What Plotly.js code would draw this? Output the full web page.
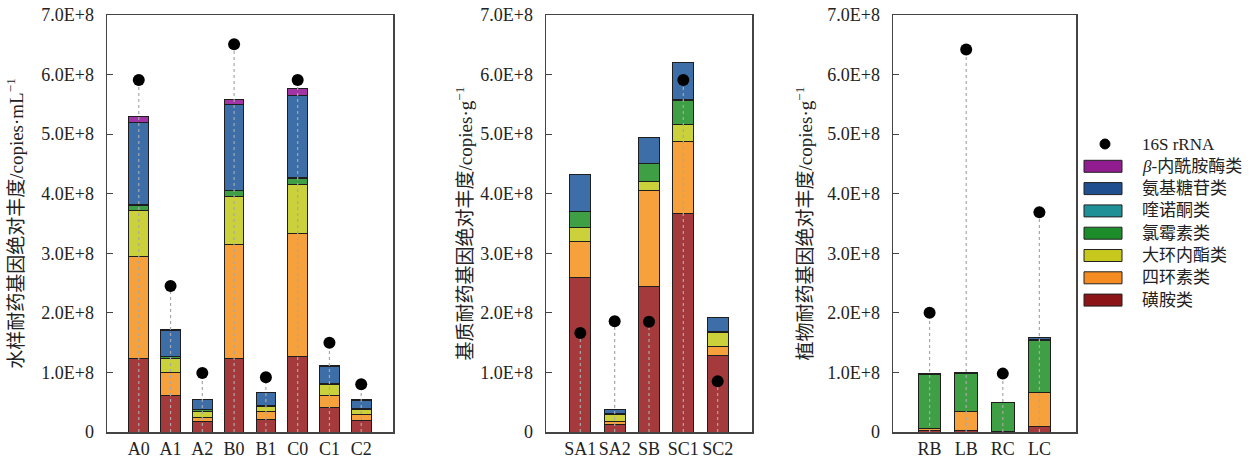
<!DOCTYPE html>
<html>
<head>
<meta charset="utf-8">
<script src="https://cdn.plot.ly/plotly-3.0.1.min.js"></script>
<style>html,body{margin:0;padding:0;background:#fff;}#chart{width:1256px;height:463px;}</style>
</head>
<body>
<div id="chart"></div>
<script>
// ---------- DATA (values in units of 1E+8 copies) ----------
const classNames = ['磺胺类', '四环素类', '大环内酯类', '氯霉素类', '喹诺酮类', '氨基糖苷类', '<i>β</i>-内酰胺酶类'];
const yTickVals = [0, 1, 2, 3, 4, 5, 6, 7];
const yTickText = ['0', '1.0E+8', '2.0E+8', '3.0E+8', '4.0E+8', '5.0E+8', '6.0E+8', '7.0E+8'];

// Panel 1: water samples
const waterCats = ['A0', 'A1', 'A2', 'B0', 'B1', 'C0', 'C1', 'C2'];
const waterSulfonamide     = [1.23, 0.62, 0.18, 1.23, 0.21, 1.27, 0.41, 0.19];
const waterTetracycline    = [1.71, 0.38, 0.07, 1.92, 0.13, 2.07, 0.20, 0.10];
const waterMacrolide       = [0.78, 0.23, 0.09, 0.81, 0.08, 0.82, 0.18, 0.08];
const waterChloramphenicol = [0.09, 0.03, 0.03, 0.09, 0.02, 0.10, 0.02, 0.02];
const waterQuinolone       = [0.01, 0.01, 0.005, 0.01, 0.005, 0.01, 0.005, 0.005];
const waterAminoglycoside  = [1.38, 0.44, 0.17, 1.43, 0.22, 1.38, 0.29, 0.14];
const waterBetaLactam      = [0.10, 0.01, 0.005, 0.09, 0.005, 0.12, 0.005, 0.005];
const water16S             = [5.91, 2.45, 0.99, 6.51, 0.92, 5.91, 1.50, 0.80];

// Panel 2: substrate samples
const substrateCats = ['SA1', 'SA2', 'SB', 'SC1', 'SC2'];
const substrateSulfonamide     = [2.59, 0.12, 2.44, 3.67, 1.29];
const substrateTetracycline    = [0.61, 0.05, 1.61, 1.20, 0.14];
const substrateMacrolide       = [0.23, 0.12, 0.16, 0.29, 0.24];
const substrateChloramphenicol = [0.27, 0.02, 0.29, 0.41, 0.02];
const substrateQuinolone       = [0, 0, 0, 0.01, 0];
const substrateAminoglycoside  = [0.62, 0.06, 0.45, 0.62, 0.23];
const substrateBetaLactam      = [0, 0, 0, 0, 0];
const substrate16S             = [1.66, 1.86, 1.85, 5.91, 0.85];

// Panel 3: plant samples
const plantCats = ['RB', 'LB', 'RC', 'LC'];
const plantSulfonamide     = [0.02, 0.03, 0.01, 0.10];
const plantTetracycline    = [0.04, 0.32, 0.005, 0.555];
const plantMacrolide       = [0, 0, 0, 0];
const plantChloramphenicol = [0.91, 0.64, 0.475, 0.875];
const plantQuinolone       = [0.01, 0.01, 0, 0.03];
const plantAminoglycoside  = [0, 0, 0, 0.02];
const plantBetaLactam      = [0, 0, 0, 0];
const plant16S             = [2.00, 6.42, 0.98, 3.69];

// ---------- STYLE ----------
const barColors    = ['#a53a3d', '#f7a13c', '#cbd13a', '#3f9f45', '#2a9d9d', '#3d6ea8', '#a235a5'];
const legendColors = ['#8c1518', '#f58c22', '#c6c81e', '#1d8c2b', '#1f9096', '#1f4f8e', '#901c90'];
const serif = '"Liberation Serif", "Times New Roman", "Noto Sans CJK SC", serif';
const W = 1256, H = 463;

const panels = [
  {cats: waterCats, series: [waterSulfonamide, waterTetracycline, waterMacrolide, waterChloramphenicol, waterQuinolone, waterAminoglycoside, waterBetaLactam], s16: water16S, xa: 'x', ya: 'y'},
  {cats: substrateCats, series: [substrateSulfonamide, substrateTetracycline, substrateMacrolide, substrateChloramphenicol, substrateQuinolone, substrateAminoglycoside, substrateBetaLactam], s16: substrate16S, xa: 'x2', ya: 'y2'},
  {cats: plantCats, series: [plantSulfonamide, plantTetracycline, plantMacrolide, plantChloramphenicol, plantQuinolone, plantAminoglycoside, plantBetaLactam], s16: plant16S, xa: 'x3', ya: 'y3'}
];

const traces = [];
panels.forEach(p => {
  p.series.forEach((vals, i) => {
    traces.push({
      type: 'bar', x: p.cats, y: vals, xaxis: p.xa, yaxis: p.ya,
      name: classNames[i], showlegend: false, width: 0.62,
      marker: {color: barColors[i], line: {color: '#1e1e1e', width: 1}},
      hoverinfo: 'skip'
    });
  });
  // dotted drop lines from axis to 16S point
  const lx = [], ly = [];
  p.cats.forEach((c, k) => { lx.push(c, c, null); ly.push(0, p.s16[k], null); });
  traces.push({
    type: 'scatter', mode: 'lines', x: lx, y: ly, xaxis: p.xa, yaxis: p.ya,
    line: {color: '#a8a8a8', width: 1.2, dash: 'dot'}, showlegend: false, hoverinfo: 'skip'
  });
  traces.push({
    type: 'scatter', mode: 'markers', x: p.cats, y: p.s16, xaxis: p.xa, yaxis: p.ya,
    name: '16S rRNA', showlegend: false,
    marker: {color: '#000', size: 12}
  });
});

function yAxis(title, standoff) {
  return {
    domain: [31 / H, 1 - 15 / H], range: [0, 7],
    tickvals: yTickVals, ticktext: yTickText, ticks: 'inside', ticklen: 6, tickwidth: 1.2, tickcolor: '#444',
    ticklabelstandoff: 8,
    showline: true, mirror: true, linecolor: '#444', linewidth: 1.5,
    showgrid: false, zeroline: false,
    tickfont: {family: serif, size: 18, color: '#222'},
    title: {text: title, font: {family: serif, size: 19, color: '#222'}, standoff: standoff},
    automargin: false, fixedrange: true
  };
}
function xAxis(x0, x1, anchor, n) {
  return {
    domain: [x0 / W, x1 / W], anchor: anchor, type: 'category', range: [-1, n],
    ticks: '', showline: true, mirror: true, linecolor: '#444', linewidth: 1.5,
    showgrid: false, zeroline: false,
    tickfont: {family: serif, size: 18, color: '#222'}, fixedrange: true
  };
}

// ---------- LEGEND (drawn from classNames / legendColors) ----------
const shapes = [], annotations = [];
const lgX0 = 1084, lgX1 = 1122, lgTextX = 1140, lgTop = 144, lgStep = 22.3;
shapes.push({type: 'circle', xref: 'paper', yref: 'paper',
  x0: (1105 - 5) / W, x1: (1105 + 5) / W, y0: 1 - (lgTop + 5) / H, y1: 1 - (lgTop - 5) / H,
  fillcolor: '#000', line: {color: '#000', width: 1}});
annotations.push({xref: 'paper', yref: 'paper', x: lgTextX / W, y: 1 - lgTop / H, xanchor: 'left', yanchor: 'middle',
  text: '16S rRNA', showarrow: false, font: {family: serif, size: 17, color: '#222'}});
for (let i = classNames.length - 1, row = 1; i >= 0; i--, row++) {
  const cy = lgTop + row * lgStep;
  shapes.push({type: 'rect', xref: 'paper', yref: 'paper',
    x0: lgX0 / W, x1: lgX1 / W, y0: 1 - (cy + 6) / H, y1: 1 - (cy - 6) / H,
    fillcolor: legendColors[i], line: {color: '#222', width: 1}});
  annotations.push({xref: 'paper', yref: 'paper', x: lgTextX / W, y: 1 - cy / H, xanchor: 'left', yanchor: 'middle',
    text: classNames[i], showarrow: false, font: {family: serif, size: 17, color: '#222'}});
}

const layout = {
  width: W, height: H, margin: {l: 0, r: 0, t: 0, b: 0},
  paper_bgcolor: '#fff', plot_bgcolor: '#fff',
  barmode: 'stack', showlegend: false,
  xaxis: xAxis(107, 393, 'y', waterCats.length),
  yaxis: Object.assign(yAxis('水样耐药基因绝对丰度/copies·mL<sup>−1</sup>', 12), {anchor: 'x'}),
  xaxis2: xAxis(546, 752, 'y2', substrateCats.length),
  yaxis2: Object.assign(yAxis('基质耐药基因绝对丰度/copies·g<sup>−1</sup>', 2), {anchor: 'x2'}),
  xaxis3: xAxis(893, 1076, 'y3', plantCats.length),
  yaxis3: Object.assign(yAxis('植物耐药基因绝对丰度/copies·g<sup>−1</sup>', 9), {anchor: 'x3'}),
  shapes: shapes, annotations: annotations
};

Plotly.newPlot('chart', traces, layout, {staticPlot: true, displayModeBar: false});
</script>
</body>
</html>
